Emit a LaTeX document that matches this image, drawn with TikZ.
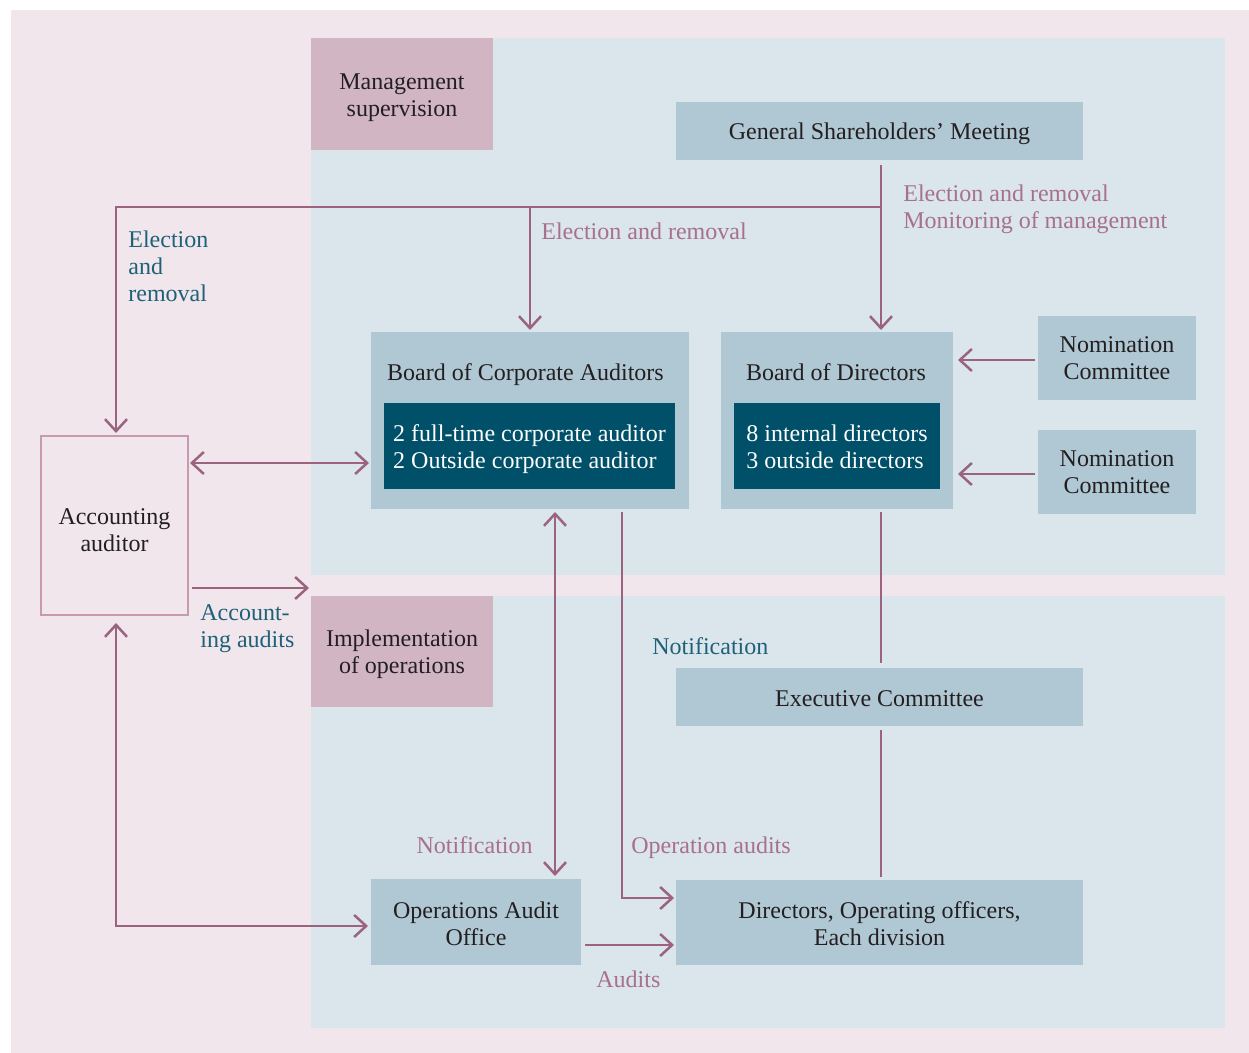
\documentclass[tikz,border=0pt]{standalone}
\usepackage{fontspec}
\setmainfont{Liberation Serif}
\usetikzlibrary{arrows.meta,calc}
\definecolor{bgpink}{HTML}{F0E6EC}
\definecolor{bgblue}{HTML}{DAE5EC}
\definecolor{mgmtpink}{HTML}{D1B5C3}
\definecolor{boxblue}{HTML}{B0C7D4}
\definecolor{darkteal}{HTML}{00506A}
\definecolor{arrcol}{HTML}{9B6380}
\definecolor{lblpink}{HTML}{A8708F}
\definecolor{lblteal}{HTML}{1F6178}
\definecolor{accline}{HTML}{C79AB0}
\definecolor{txt}{HTML}{231F20}
\tikzset{
  every node/.style={font=\fontsize{12}{13.5}\selectfont, text=txt},
  region/.style={fill=bgblue, inner sep=0pt, outer sep=0pt},
  sidebox/.style={fill=mgmtpink, inner sep=0pt, outer sep=0pt, align=center},
  bluebox/.style={fill=boxblue, inner sep=0pt, outer sep=0pt, align=center},
  darkbox/.style={fill=darkteal, inner sep=0pt, outer sep=0pt},
  whitetxt/.style={inner sep=0pt, align=left, text=white},
  boxtxt/.style={inner sep=0pt, align=center},
  accbox/.style={draw=accline, line width=1.25pt, fill=bgpink, inner sep=0pt, outer sep=0pt, align=center},
  ln/.style={draw=arrcol, line width=1.25pt},
  arr/.style={ln, -{Straight Barb[length=6pt,width=11pt,line width=1.25pt]}},
  darr/.style={ln, {Straight Barb[length=6pt,width=11pt,line width=1.25pt]}-{Straight Barb[length=6pt,width=11pt,line width=1.25pt]}},
  plbl/.style={text=lblpink, inner sep=0pt, align=left},
  tlbl/.style={text=lblteal, inner sep=0pt, align=left},
}
\begin{document}
\begin{tikzpicture}[x=0.5pt,y=-0.5pt]
\useasboundingbox (0,0) rectangle (1249,1053);
\fill[bgpink] (11,10) rectangle (1249,1053);
% regions
\node[region, minimum width=457pt, minimum height=268.5pt] (upper) at (768,306.5) {};
\node[region, minimum width=457pt, minimum height=216pt] (lower) at (768,812) {};
\node[sidebox, minimum width=91pt, minimum height=56pt] (mgmt) at (402,94) {};
\node[boxtxt] (mgmtt) at (402,97.5) {Management\\supervision};
\node[sidebox, minimum width=91pt, minimum height=55.5pt] (impl) at (402,651.5) {};
\node[boxtxt] (implt) at (402,654) {Implementation\\of operations};
% boxes
\node[bluebox, minimum width=203.5pt, minimum height=29pt] (gsm) at (879.5,131) {};
\node[boxtxt] (gsmt) at (879.5,134) {General Shareholders’ Meeting};
\node[bluebox, minimum width=159pt, minimum height=88.5pt] (bca) at (530,420.5) {};
\node[inner sep=0pt] (bcat) at (525.5,375) {Board of Corporate Auditors};
\node[darkbox, minimum width=145.5pt, minimum height=43pt] (bcain) at (529.5,446) {};
\node[whitetxt] (bcaint) at (529.5,449) {2 full-time corporate auditor\\2 Outside corporate auditor};
\node[bluebox, minimum width=116pt, minimum height=88.5pt] (bod) at (837,420.5) {};
\node[inner sep=0pt] (bodt) at (836,372) {Board of Directors};
\node[darkbox, minimum width=103pt, minimum height=43pt] (bodin) at (837,446) {};
\node[whitetxt] (bodint) at (837,447) {8 internal directors\\3 outside directors};
\node[bluebox, minimum width=79pt, minimum height=42pt] (nom1) at (1117,358) {Nomination\\Committee};
\node[bluebox, minimum width=79pt, minimum height=42pt] (nom2) at (1117,472) {Nomination\\Committee};
\node[accbox, minimum width=73.5pt, minimum height=89.5pt] (acc) at (114.5,525.5) {};
\node[boxtxt] (acct) at (114.5,530) {Accounting\\auditor};
\node[bluebox, minimum width=203.5pt, minimum height=29pt] (exec) at (879.5,697) {};
\node[boxtxt] (exect) at (879.5,698.5) {Executive Committee};
\node[bluebox, minimum width=105pt, minimum height=43pt] (oao) at (476,922) {};
\node[boxtxt] (oaot) at (476,924) {Operations Audit\\Office};
\node[bluebox, minimum width=203.5pt, minimum height=42.5pt] (dir) at (879.5,922.5) {};
\node[boxtxt] (dirt) at (879.5,924) {Directors, Operating officers,\\Each division};
% junctions
\coordinate (j) at (881,207);
\coordinate (jl) at (530,207);
\coordinate (jacc) at (116,207);
% connectors
\draw[arr, shorten <=2.5pt, shorten >=1pt] (gsm.south -| j) -- (bod.north -| j);
\draw[arr, shorten >=1.5pt] (j) -- (jacc) -- (acc.north -| jacc);
\draw[arr, shorten >=1pt] (jl) -- (bca.north -| jl);
\draw[darr, shorten <=1pt, shorten >=1pt] (acc.east |- 0,463) -- (bca.west |- 0,463);
\draw[arr, shorten <=2pt, shorten >=1pt] (acc.east |- 0,588) -- (upper.west |- 0,588);
\draw[darr, shorten <=1.5pt, shorten >=1.5pt] (bca.south -| 555,0) -- (oao.north -| 555,0);
\draw[arr, shorten <=1.5pt, shorten >=1pt] (bca.south -| 622,0) -- (622,898) -- (dir.west |- 0,898);
\draw[ln, shorten <=1.5pt, shorten >=2.5pt] (bod.south -| 881,0) -- (exec.north -| 881,0);
\draw[ln, shorten <=2pt, shorten >=1.5pt] (exec.south -| 881,0) -- (dir.north -| 881,0);
\draw[arr, shorten <=1.5pt, shorten >=2.5pt] (nom1.west |- 0,360) -- (bod.east |- 0,360);
\draw[arr, shorten <=1.5pt, shorten >=2.5pt] (nom2.west |- 0,474) -- (bod.east |- 0,474);
\draw[darr, shorten <=4pt, shorten >=1.5pt] (acc.south -| 116,0) -- (116,926) -- (oao.west |- 0,926);
\draw[arr, shorten <=2pt, shorten >=1pt] (oao.east |- 0,945) -- (dir.west |- 0,945);
% labels
\node[plbl, anchor=west] (l1) at (903,209.5) {Election and removal\\Monitoring of management};
\node[plbl, anchor=west] (l2) at (541,231) {Election and removal};
\node[tlbl, anchor=west] (l3) at (128,266.5) {Election\\and\\removal};
\node[tlbl, anchor=west] (l4) at (200,628.5) {Account-\\ing audits};
\node[plbl, anchor=east] (l5) at (533,845) {Notification};
\node[plbl, anchor=west] (l6) at (631,848) {Operation audits};
\node[tlbl, anchor=west] (l7) at (652,646) {Notification};
\node[plbl, anchor=west] (l8) at (596,979) {Audits};
\end{tikzpicture}
\end{document}
